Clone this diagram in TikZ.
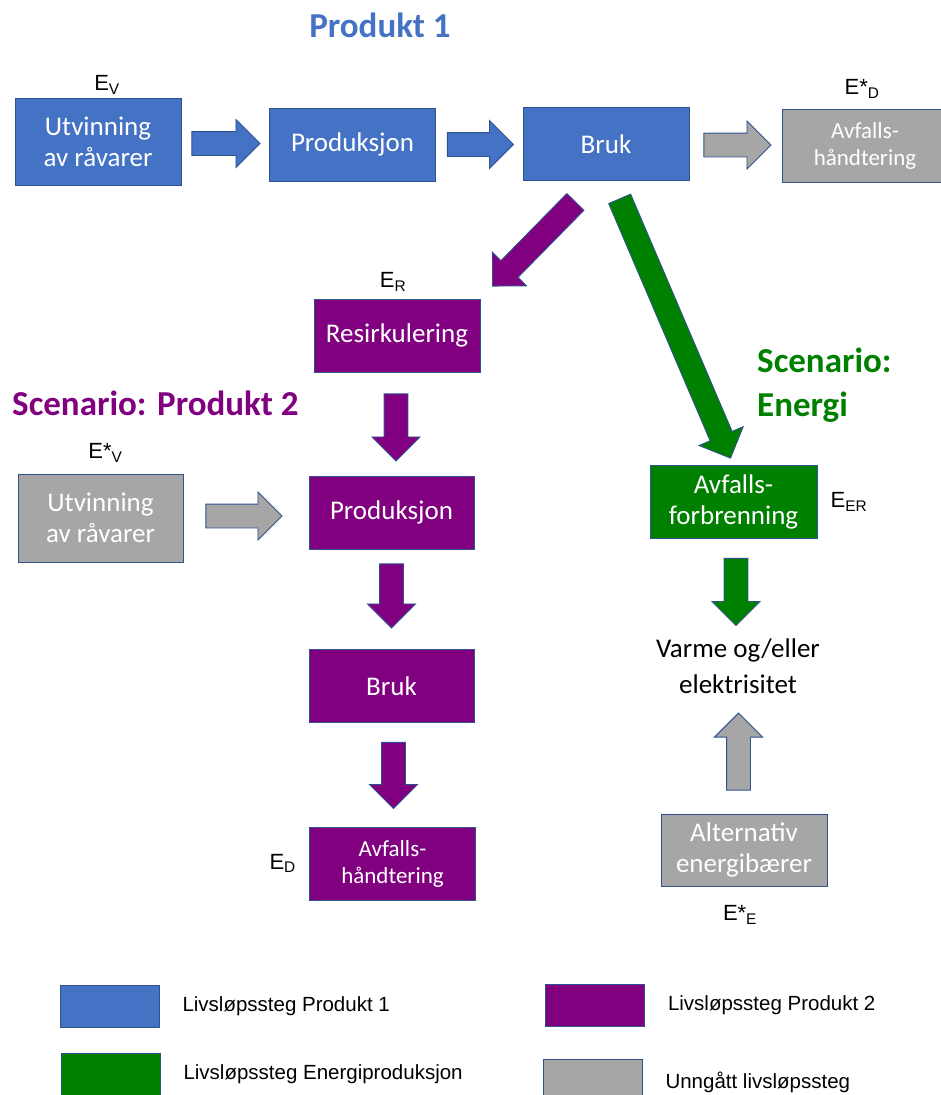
\documentclass[tikz,border=0pt]{standalone}
\usepackage{fontspec}
\setmainfont{Carlito}
\newfontfamily\arialfont{Liberation Sans}
\usetikzlibrary{positioning,calc,shapes.arrows}

\definecolor{prodblue}{HTML}{4472C4}
\definecolor{prodpurple}{HTML}{800080}
\definecolor{energygreen}{HTML}{008000}
\definecolor{avoidgray}{HTML}{A6A6A6}
\definecolor{shapeline}{HTML}{2F528F}

\begin{document}
\begin{tikzpicture}[x=1pt,y=-1pt,>=stealth]

  \tikzset{
    stage/.style={rectangle,draw=shapeline,line width=0.9pt,text=white,
                  align=center,minimum width=166pt,minimum height=73pt,
                  inner sep=2pt,font=\fontsize{27}{31}\selectfont},
    small stage/.style={stage,font=\fontsize{23}{27}\selectfont},
    blue stage/.style={fill=prodblue},
    purple stage/.style={fill=prodpurple},
    green stage/.style={fill=energygreen},
    gray stage/.style={fill=avoidgray},
    blkarrow/.style={single arrow,draw=shapeline,line width=0.9pt,inner sep=0pt,
                     text height=23pt,text depth=0pt,single arrow head extend=12pt,
                     single arrow tip angle=90,minimum width=1pt,minimum height=#1},
    elabel/.style={font=\arialfont\fontsize{22}{26}\selectfont,inner sep=1pt},
    title/.style={font=\fontsize{35}{44}\selectfont\bfseries,inner sep=0pt},
    swatch/.style={rectangle,draw=shapeline,line width=0.6pt,minimum width=99pt,
                   minimum height=42pt,inner sep=0pt},
    legend/.style={font=\arialfont\fontsize{20.5}{24}\selectfont,anchor=west,inner sep=0pt}
  }

  \useasboundingbox (0,0) rectangle (940,1095);

  % Produkt 1
  \node [title,text=prodblue] (t1) at (380,25) {Produkt 1};
  \node [stage,blue stage,minimum height=87pt] (utv1) at (98,141.5)
    {Utvinning\\av råvarer};
  \node [stage,blue stage] (prod1) at (352.5,144.5) {Produksjon};
  \node [stage,blue stage] (bruk1) at (606,144) {Bruk};
  \node [small stage,gray stage] (avf1) at (865,145.5) {Avfalls-\\håndtering};

  \node [elabel,above=2pt of utv1,xshift=9pt] (ev) {E\textsubscript{V}};
  \node [elabel,above=9pt of avf1,xshift=-3pt] (edstar) {E*\textsubscript{D}};

  \node [blkarrow=68,fill=prodblue,anchor=tail] (a1) at ($(utv1.east)+(10,2)$) {};
  \node [blkarrow=66,fill=prodblue,anchor=tail] (a2) at ($(prod1.east)+(11,0)$) {};
  \node [blkarrow=67,fill=avoidgray,anchor=tail] (a3) at ($(bruk1.east)+(14,1)$) {};

  % Scenario: Produkt 2
  \node [title,text=prodpurple,anchor=west] (t2) at (12,403) {Scenario: Produkt 2};
  \node [stage,purple stage] (resirk) at (397,335.5) {Resirkulering};
  \node [stage,gray stage,minimum height=88pt,minimum width=165pt] (utv2) at (100.5,518)
    {Utvinning\\av råvarer};
  \node [stage,purple stage,minimum width=165pt] (prod2) at (391.5,512.5) {Produksjon};
  \node [stage,purple stage,minimum width=165pt] (bruk2) at (391.5,686) {Bruk};
  \node [small stage,purple stage] (avf2) at (392.5,863.5) {Avfalls-\\håndtering};

  \node [elabel,above=6pt of resirk,xshift=-4pt] (er) {E\textsubscript{R}};
  \node [elabel,above=10pt of utv2,xshift=5pt] (evstar) {E*\textsubscript{V}};
  \node [elabel,left=12pt of avf2] (ed) {E\textsubscript{D}};

  \path (bruk1.south) ++(-10,0) coordinate (p2start);
  \path (p2start) -- (resirk.north east)
    node [midway,sloped,allow upside down,blkarrow=118,fill=prodpurple] (a4) {};
  \node [blkarrow=67,fill=prodpurple,rotate=-90,anchor=tail] (a5) at ($(resirk.south)+(-1,21)$) {};
  \node [blkarrow=64,fill=prodpurple,rotate=-90,anchor=tail] (a6) at ($(prod2.south)+(0,14)$) {};
  \node [blkarrow=66,fill=prodpurple,rotate=-90,anchor=tail] (a7) at ($(bruk2.south)+(2,19)$) {};
  \node [blkarrow=76,fill=avoidgray,anchor=tail] (a8) at ($(utv2.east)+(22,-2)$) {};

  % Scenario: Energi
  \node [title,text=energygreen,anchor=west,align=left] (t3) at (757,385)
    {Scenario:\\Energi};
  \node [stage,green stage,minimum width=167pt] (forbr) at (733.5,502)
    {Avfalls-\\forbrenning};
  \node [font=\fontsize{27}{36}\selectfont,align=center,inner sep=2pt] (varme) at (738,666)
    {Varme og/eller\\elektrisitet};
  \node [stage,gray stage,minimum height=72pt] (altern) at (744,850)
    {Alternativ\\energibærer};

  \node [elabel,right=12pt of forbr] (eer) {E\textsubscript{ER}};
  \node [elabel,below=18pt of altern,xshift=-4pt] (eestar) {E*\textsubscript{E}};

  \path (bruk1.south) ++(6,0) coordinate (p3start);
  \path (p3start) -- (forbr.north)
    node [midway,sloped,allow upside down,blkarrow=282,fill=energygreen] (a9) {};
  \node [blkarrow=67,fill=energygreen,rotate=-90,anchor=tail] (a10) at ($(forbr.south)+(2.5,19)$) {};
  \node [blkarrow=77,fill=avoidgray,rotate=90,anchor=tail] (a11) at ($(altern.north)+(-5.5,-23)$) {};

  % legend
  \node [swatch,fill=prodblue] (s1) at (109.5,1006) {};
  \node [swatch,fill=prodpurple] (s2) at (595,1005.5) {};
  \node [swatch,fill=energygreen] (s3) at (110.5,1074) {};
  \node [swatch,fill=avoidgray] (s4) at (592.5,1080) {};
  \node [legend,right=23pt of s1] (l1) {Livsløpssteg Produkt 1};
  \node [legend,right=23pt of s2] (l2) {Livsløpssteg Produkt 2};
  \node [legend,right=23pt of s3] (l3) {Livsløpssteg Energiproduksjon};
  \node [legend,right=23pt of s4,yshift=-2pt] (l4) {Unngått livsløpssteg};

\end{tikzpicture}
\end{document}
